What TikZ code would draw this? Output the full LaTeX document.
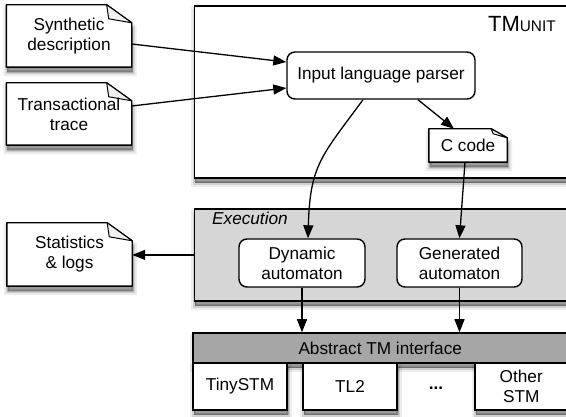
\documentclass[tikz,border=0pt]{standalone}
\usepackage{fontspec}
\setmainfont{Liberation Sans}
\usetikzlibrary{arrows.meta,calc}
\pgfdeclarelayer{bg}
\pgfsetlayers{bg,main}
\definecolor{execgray}{RGB}{214,214,214}
\definecolor{absgray}{RGB}{166,166,166}
\definecolor{foldgray}{RGB}{240,240,240}
\tikzset{
  base/.style={font=\fontsize{17.2}{20}\selectfont, align=center, inner sep=0pt},
  shad/.style={
    preaction={draw=black, fill=black, line width=8pt, opacity=0.07, transform canvas={xshift=1pt,yshift=-5pt}},
    preaction={draw=black, fill=black, line width=4pt, opacity=0.12, transform canvas={xshift=1pt,yshift=-5pt}},
    preaction={draw=black, fill=black, line width=1pt, opacity=0.2, transform canvas={xshift=1pt,yshift=-5pt}}},
  rbox/.style={base, draw, line width=1.4pt, rounded corners=8pt, fill=white},
  doctext/.style={base, minimum width=125pt, minimum height=62pt},
  container/.style={draw, line width=1.8pt, anchor=north west, inner sep=0pt, shad},
  docline/.style={draw, line width=1.4pt, line join=round},
  arr/.style={line width=1.3pt, -{Triangle[length=13pt,width=10pt]}},
  implbox/.style={base, draw, line width=1.4pt, fill=white, minimum height=47pt, shad},
}
\newcommand\docshape[3]{%
  \begin{pgfonlayer}{bg}
    \path[docline, fill=white, shad] (#1.north west) -- ($(#1.north east)+(-#2,0)$)
      -- ($(#1.north east)+(0,#3)$) -- (#1.south east) -- (#1.south west) -- cycle;
    \path[docline, line width=1pt, fill=foldgray] ($(#1.north east)+(-#2,0)$) -- ($(#1.north east)+(-#2+2,#3-4)$)
      -- ($(#1.north east)+(0,#3)$) -- cycle;
  \end{pgfonlayer}}
\begin{document}
\begin{tikzpicture}[x=1pt,y=-1pt]
\useasboundingbox (0,0) rectangle (566,417);
% containers
\begin{pgfonlayer}{bg}
  \node[container, fill=white, minimum width=374pt, minimum height=172pt] (tm) at (193.5,5) {};
  \node[container, fill=execgray, minimum width=374pt, minimum height=92pt] (exec) at (193.5,208) {};
\end{pgfonlayer}
\node[anchor=base east, inner sep=0pt, font=\fontsize{22}{24}\selectfont] (tmlabel) at (556,32)
  {TM{\fontsize{15.4}{18}\selectfont UNIT}};
\node[anchor=base west, inner sep=0pt, font=\fontsize{17.2}{20}\selectfont\itshape] (execlabel) at (212,225) {Execution};
% documents
\node[doctext] (syn) at (69,36) {Synthetic\\description};
\docshape{syn}{25}{18}
\node[doctext] (tr) at (69,114) {Transactional\\trace};
\docshape{tr}{25}{18}
\node[doctext, minimum height=63pt] (st) at (69.5,254.5) {Statistics\\\& logs};
\docshape{st}{25}{18}
\node[base, minimum width=78pt, minimum height=33pt] (cc) at (468,145.5) {C code};
\docshape{cc}{16}{9}
% boxes
\node[rbox, minimum width=188pt, minimum height=47pt] (parser) at (381,75.5) {Input language parser};
\node[rbox, minimum width=126pt, minimum height=48pt] (dyn) at (302,263) {Dynamic\\automaton};
\node[rbox, minimum width=125pt, minimum height=48pt] (gen) at (459.5,263) {Generated\\automaton};
% bottom
\node[base, draw, line width=1.6pt, fill=absgray, minimum width=374.5pt, minimum height=30pt, shad] (abs) at (380.25,348) {Abstract TM interface};
\node[implbox, minimum width=94pt] (tiny) at (240,386.5) {TinySTM};
\node[implbox, minimum width=94pt] (tl2) at (350,386.5) {TL2};
\node[base] (dots) at (436,388) {\bfseries ...};
\node[implbox, minimum width=92.5pt] (other) at (521.25,386.5) {Other\\STM};
% connectors
\draw[arr] ([yshift=-8pt]syn.east) -- ([yshift=13.5pt]parser.west);
\draw[arr] ([yshift=8pt]tr.east) -- ([yshift=-12.5pt]parser.west);
\draw[arr] ([xshift=37pt]parser.south) -- ([xshift=-14pt]cc.north);
\draw[arr] ([xshift=-18pt]parser.south) .. controls +(-41,56) and +(2,-74) .. ([xshift=6pt]dyn.north);
\draw[arr] ([xshift=-3pt]cc.south) -- (gen.north);
\draw[arr] (exec.west) -- (st.east |- exec.west);
\draw[arr] (dyn.south) -- (dyn.south |- abs.north);
\draw[arr] (gen.south) -- (gen.south |- abs.north);
\end{tikzpicture}
\end{document}
